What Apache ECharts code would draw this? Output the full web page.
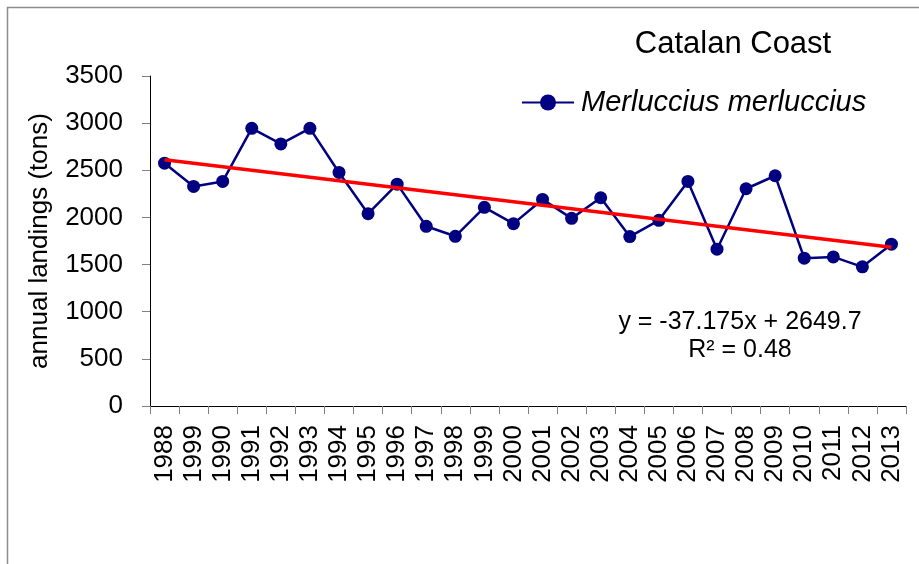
<!DOCTYPE html>
<html>
<head>
<meta charset="utf-8">
<script src="https://cdn.jsdelivr.net/npm/echarts@6/dist/echarts.min.js"></script>
<style>
    html, body { margin: 0; padding: 0; background: #fff; }
    #chart { width: 919px; height: 564px; }
</style>
</head>
<body>
<div id="chart"></div>
<script>
// 横轴年份（原图第二个标签就是 1999）
var years = ["1988","1999","1990","1991","1992","1993","1994","1995","1996","1997","1998","1999","2000",
    "2001","2002","2003","2004","2005","2006","2007","2008","2009","2010","2011","2012","2013"];
// Merluccius merluccius 年渔获量 (tons)
var landings = [2575, 2329, 2382, 2945, 2780, 2945, 2477, 2040, 2353, 1906, 1800, 2107, 1934,
    2191, 1990, 2209, 1797, 1969, 2382, 1663, 2304, 2442, 1568, 1581, 1476, 1716];
// 趋势线两端的值
var trendEnds = [2612, 1683];
var yTicks = { min: 0, max: 3500, interval: 500 };
var seriesName = "Merluccius merluccius";
var titleText = "Catalan Coast";
var equationText = ["y = -37.175x + 2649.7", "R² = 0.48"];

var font = "'Liberation Sans', Arial, sans-serif";

// 趋势线只有首尾两个点, 中间用 null 连起来
var trendData = years.map(function (y, i) {
    if (i === 0) return trendEnds[0];
    if (i === years.length - 1) return trendEnds[1];
    return null;
});

var myChart = echarts.init(document.getElementById("chart"));
var option = {
    backgroundColor: "#fff",
    animation: false,
    grid: {
        left: 150,
        right: 13,
        top: 76,
        bottom: 158
    },
    legend: {
        data: [seriesName],
        left: 521,
        top: 88,
        padding: 0,
        itemWidth: 52,
        itemHeight: 20,
        itemGap: 0,
        textStyle: {
            fontFamily: font,
            fontSize: 29,
            fontStyle: "italic",
            color: "#000",
            padding: [0, 0, 0, 2]
        }
    },
    xAxis: {
        type: "category",
        data: years,
        boundaryGap: true,
        axisLine: { lineStyle: { color: "#000", width: 1 } },
        axisTick: { show: true, length: 8, lineStyle: { color: "#808080" } },
        axisLabel: {
            rotate: 90,
            interval: 0,
            margin: 19,
            fontFamily: font,
            fontSize: 26,
            color: "#000"
        },
        splitLine: { show: false }
    },
    yAxis: {
        type: "value",
        min: yTicks.min,
        max: yTicks.max,
        interval: yTicks.interval,
        name: "annual landings (tons)",
        nameLocation: "middle",
        nameGap: 97,
        nameTextStyle: { fontFamily: font, fontSize: 26, color: "#000" },
        axisLine: { show: true, lineStyle: { color: "#000", width: 1 } },
        axisTick: { show: true, length: 8, lineStyle: { color: "#808080" } },
        axisLabel: {
            margin: 27,
            fontFamily: font,
            fontSize: 26,
            color: "#000",
            formatter: function (v) { return String(v); }
        },
        splitLine: { show: false }
    },
    series: [
        {
            name: seriesName,
            type: "line",
            data: landings,
            symbol: "circle",
            symbolSize: 13,
            lineStyle: { color: "#000080", width: 2.5 },
            itemStyle: { color: "#000080" },
            z: 2
        },
        {
            name: "trend",
            type: "line",
            data: trendData,
            connectNulls: true,
            showSymbol: false,
            symbol: "none",
            lineStyle: { color: "#ff0000", width: 3.5 },
            z: 3
        }
    ],
    graphic: [
        // 外框（只看到上边和左边）
        {
            type: "polyline",
            shape: { points: [[7.5, 564], [7.5, 7.5], [919, 7.5]] },
            style: { stroke: "#8c8c8c", lineWidth: 1.5, fill: null }
        },
        {
            type: "text",
            x: 733,
            y: 44,
            style: {
                text: titleText,
                fontFamily: font,
                fontSize: 31,
                fill: "#000",
                align: "center",
                verticalAlign: "middle"
            }
        },
        {
            type: "text",
            x: 740,
            y: 322,
            style: {
                text: equationText[0],
                fontFamily: font,
                fontSize: 25,
                fill: "#000",
                align: "center",
                verticalAlign: "middle"
            }
        },
        {
            type: "text",
            x: 740,
            y: 350,
            style: {
                text: equationText[1],
                fontFamily: font,
                fontSize: 25,
                fill: "#000",
                align: "center",
                verticalAlign: "middle"
            }
        }
    ]
};
myChart.setOption(option);
</script>
</body>
</html>
